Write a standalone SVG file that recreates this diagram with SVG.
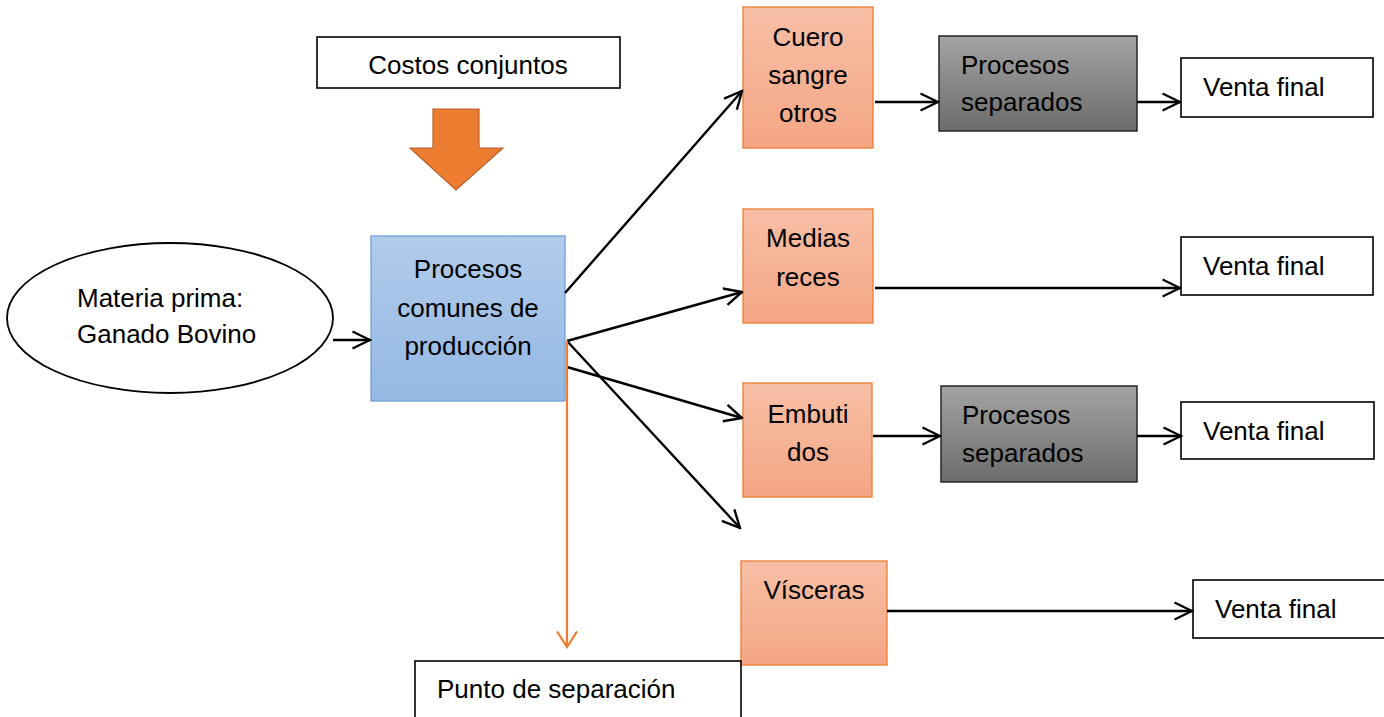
<svg xmlns="http://www.w3.org/2000/svg" width="1384" height="717" viewBox="0 0 1384 717">
<style>
text{font-family:"Liberation Sans",Arial,sans-serif;font-size:26px;fill:#000}
.c{text-anchor:middle}
.wb{fill:#fff;stroke:#000;stroke-width:1.6}
.or{fill:url(#gO);stroke:#ED7D31;stroke-width:1.3}
.gr{fill:url(#gG);stroke:#262626;stroke-width:1.5}
.ln{stroke:#000;stroke-width:2.4;fill:none;marker-end:url(#ah)}
</style>
<defs>
<linearGradient id="gO" x1="0" y1="0" x2="0" y2="1"><stop offset="0" stop-color="#F7BFA6"/><stop offset="1" stop-color="#F4A684"/></linearGradient>
<linearGradient id="gB" x1="0" y1="0" x2="0" y2="1"><stop offset="0" stop-color="#B1CCEB"/><stop offset="1" stop-color="#94B8E2"/></linearGradient>
<linearGradient id="gG" x1="0" y1="0" x2="0" y2="1"><stop offset="0" stop-color="#A3A3A3"/><stop offset="1" stop-color="#6C6C6C"/></linearGradient>
<marker id="ah" viewBox="0 0 20 20" refX="18.5" refY="10" markerWidth="20" markerHeight="20" markerUnits="userSpaceOnUse" orient="auto"><path d="M1,1.5 L18.5,10 L1,18.5" fill="none" stroke="#000" stroke-width="2.4"/></marker>
<marker id="aho" viewBox="0 0 18 24" refX="16.5" refY="12" markerWidth="18" markerHeight="24" markerUnits="userSpaceOnUse" orient="auto"><path d="M1,2 L16.5,12 L1,22" fill="none" stroke="#ED7D31" stroke-width="2.2"/></marker>
</defs>
<g id="costos"><rect class="wb" x="317" y="37" width="303" height="51"/><text class="c" x="468" y="74">Costos conjuntos</text></g>
<g id="flecha-costos"><polygon points="433,109 479,109 479,148 503,148 456,190 410,148 433,148" fill="#ED7D31" stroke="#B8612A" stroke-width="1.2"/></g>
<g id="materia"><ellipse cx="170" cy="318" rx="163" ry="75" fill="#fff" stroke="#000" stroke-width="1.8"/><text x="77" y="307">Materia prima:</text><text x="77" y="343">Ganado Bovino</text></g>
<g id="comunes"><rect x="371" y="236" width="194" height="165" fill="url(#gB)" stroke="#6F9FD8" stroke-width="1.3"/><text class="c" x="468" y="278">Procesos</text><text class="c" x="468" y="317">comunes de</text><text class="c" x="468" y="355">producción</text></g>
<g id="cuero"><rect class="or" x="743" y="7" width="130" height="141"/><text class="c" x="808" y="46">Cuero</text><text class="c" x="808" y="84">sangre</text><text class="c" x="808" y="122">otros</text></g>
<g id="medias"><rect class="or" x="743" y="209" width="130" height="114"/><text class="c" x="808" y="247">Medias</text><text class="c" x="808" y="286">reces</text></g>
<g id="embutidos"><rect class="or" x="743" y="383" width="129" height="114"/><text class="c" x="808" y="423">Embuti</text><text class="c" x="808" y="461">dos</text></g>
<g id="visceras"><rect class="or" x="741" y="561" width="146" height="104"/><text class="c" x="814" y="599">Vísceras</text></g>
<g id="sep1"><rect class="gr" x="939" y="36" width="198" height="95"/><text x="961" y="74">Procesos</text><text x="961" y="111">separados</text></g>
<g id="sep2"><rect class="gr" x="941" y="386" width="196" height="96"/><text x="962" y="424">Procesos</text><text x="962" y="462">separados</text></g>
<g id="venta1"><rect class="wb" x="1181" y="58" width="192" height="59"/><text x="1203" y="96">Venta final</text></g>
<g id="venta2"><rect class="wb" x="1181" y="237" width="192" height="58"/><text x="1203" y="275">Venta final</text></g>
<g id="venta3"><rect class="wb" x="1181" y="402" width="193" height="57"/><text x="1203" y="440">Venta final</text></g>
<g id="venta4"><rect class="wb" x="1193" y="580" width="200" height="58"/><text x="1215" y="618">Venta final</text></g>
<g id="punto"><rect class="wb" x="415" y="661" width="326" height="70"/><text x="437" y="698">Punto de separación</text></g>
<g id="connectors">
<line class="ln" x1="333" y1="340" x2="370" y2="340"/>
<line class="ln" x1="565" y1="293" x2="742" y2="91"/>
<line class="ln" x1="567" y1="341" x2="742" y2="292"/>
<line class="ln" x1="567" y1="367" x2="742" y2="418"/>
<line class="ln" x1="567" y1="341" x2="740" y2="528"/>
<line class="ln" x1="875" y1="102" x2="938" y2="102"/>
<line class="ln" x1="1137" y1="102" x2="1180" y2="102"/>
<line class="ln" x1="875" y1="288" x2="1180" y2="288"/>
<line class="ln" x1="873" y1="436" x2="940" y2="436"/>
<line class="ln" x1="1137" y1="436" x2="1181" y2="436"/>
<line class="ln" x1="887" y1="611" x2="1192" y2="611"/>
<line x1="567" y1="341" x2="567" y2="647" stroke="#ED7D31" stroke-width="2.2" marker-end="url(#aho)"/>
</g>
</svg>
